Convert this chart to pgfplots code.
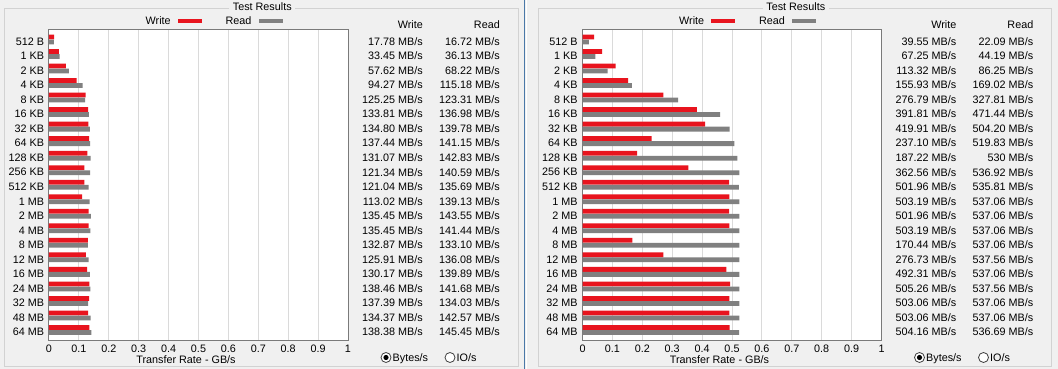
\documentclass[border=0pt]{standalone}
\usepackage{pgfplots}
\pgfplotsset{compat=1.18}
\usepackage{pgfplotstable}
\usepackage{fontspec}
\setmainfont{Liberation Sans}
\definecolor{bgc}{HTML}{F0F0F0}
\definecolor{wred}{HTML}{E8141E}
\definecolor{rgray}{HTML}{808080}
\definecolor{gridc}{HTML}{DADADA}
\definecolor{boxc}{HTML}{7A7A7A}
\definecolor{grpc}{HTML}{D2D2D2}
\definecolor{sepc}{HTML}{4A78A8}
\newcommand\fs{\fontsize{10.8}{13}\selectfont}

% MB/s values read from the result columns
\pgfplotstableread{
i w r
0 17.78 16.72
1 33.45 36.13
2 57.62 68.22
3 94.27 115.18
4 125.25 123.31
5 133.81 136.98
6 134.80 139.78
7 137.44 141.15
8 131.07 142.83
9 121.34 140.59
10 121.04 135.69
11 113.02 139.13
12 135.45 143.55
13 135.45 141.44
14 132.87 133.10
15 125.91 136.08
16 130.17 139.89
17 138.46 141.68
18 137.39 134.03
19 134.37 142.57
20 138.38 145.45
}\leftdata

\pgfplotstableread{
i w r
0 39.55 22.09
1 67.25 44.19
2 113.32 86.25
3 155.93 169.02
4 276.79 327.81
5 391.81 471.44
6 419.91 504.20
7 237.10 519.83
8 187.22 530
9 362.56 536.92
10 501.96 535.81
11 503.19 537.06
12 501.96 537.06
13 503.19 537.06
14 170.44 537.06
15 276.73 537.56
16 492.31 537.06
17 505.26 537.56
18 503.06 537.06
19 503.06 537.06
20 504.16 536.69
}\rightdata

\newcommand\panel[4]{%
  \draw[grpc, line width=1pt] (#1+229,369-8.3) -- (#1+4.5,369-8.3) -- (#1+4.5,369-366.5) -- (#1+518,369-366.5) -- (#1+518,369-8.3) -- (#1+295,369-8.3);
  \node[anchor=base, inner sep=0pt, font=\fs] at (#1+262.3,369-11) {Test Results};
  \begin{axis}[
    at={(#1pt+49pt,29pt)}, anchor=south west,
    scale only axis, width=299pt, height=310.7pt,
    xmin=0, xmax=1, ymin=-0.70, ymax=20.69, y dir=reverse,
    axis background/.style={fill=white},
    xtick={0,0.1,0.2,0.3,0.4,0.5,0.6,0.7,0.8,0.9,1},
    xticklabels={0,0.1,0.2,0.3,0.4,0.5,0.6,0.7,0.8,0.9,1},
    ytick={0,1,...,20},
    yticklabels={512 B,1 KB,2 KB,4 KB,8 KB,16 KB,32 KB,64 KB,128 KB,256 KB,512 KB,1 MB,2 MB,4 MB,8 MB,12 MB,16 MB,24 MB,32 MB,48 MB,64 MB},
    xmajorgrids, major grid style={draw=gridc, line width=1pt},
    major tick length=0pt,
    axis line style={draw=boxc, line width=1pt},
    tick label style={font=\fs, inner sep=0pt},
    xticklabel style={anchor=base, yshift=-12.3pt},
    yticklabel style={anchor=base east, xshift=-4.7pt, yshift=-5.8pt},
    legend columns=2, legend plot pos=right,
    legend style={at={(axis description cs:0.316,1.027)}, anchor=west, draw=none, fill=none,
      font=\fs, inner sep=0pt, column sep=5pt,
      /tikz/every even column/.append style={column sep=22pt}},
    legend image code/.code={\fill (0pt,-2pt) rectangle (24pt,2pt);},
  ]
    \addplot[xbar, bar shift=0pt, bar width=4.8pt, fill=wred, draw=none]
      table[x expr=\thisrow{w}/1024, y expr=\thisrow{i}-0.172] {#2};
    \addplot[xbar, bar shift=0pt, bar width=4.8pt, fill=rgray, draw=none]
      table[x expr=\thisrow{r}/1024, y expr=\thisrow{i}+0.172] {#2};
    \legend{Write, Read}
  \end{axis}
  \node[anchor=base, inner sep=0pt, font=\fs] at (#1+186,369-364) {Transfer Rate - GB/s};
  \node[anchor=base east, inner sep=0pt, font=\fs] at (#1+423,369-29) {Write};
  \node[anchor=base east, inner sep=0pt, font=\fs] at (#1+500,369-29) {Read};
  \foreach \t [count=\k from 0] in {#3} {
    \node[anchor=base east, inner sep=0pt, font=\fs] at (#1+423,369-45.3-14.525*\k) {\t\ MB/s};
  }
  \foreach \t [count=\k from 0] in {#4} {
    \node[anchor=base east, inner sep=0pt, font=\fs] at (#1+500,369-45.3-14.525*\k) {\t\ MB/s};
  }
  \draw[fill=white, draw=black!75, line width=0.8pt] (#1+386,369-357.5) circle (5pt);
  \fill[black] (#1+386,369-357.5) circle (2.6pt);
  \node[anchor=base west, inner sep=0pt, font=\fs] at (#1+392.5,369-362) {Bytes/s};
  \draw[fill=white, draw=black!75, line width=0.8pt] (#1+450,369-357.5) circle (5pt);
  \node[anchor=base west, inner sep=0pt, font=\fs] at (#1+456.5,369-362) {IO/s};
}

\begin{document}
\begin{tikzpicture}[x=1pt, y=1pt]
  \fill[bgc] (0,0) rectangle (1058,369);
  \fill[sepc] (523.5,0) rectangle (525.3,369);
  \fill[white] (526,0) rectangle (527,369);
  \panel{0}{\leftdata}%
    {17.78,33.45,57.62,94.27,125.25,133.81,134.80,137.44,131.07,121.34,121.04,113.02,135.45,135.45,132.87,125.91,130.17,138.46,137.39,134.37,138.38}%
    {16.72,36.13,68.22,115.18,123.31,136.98,139.78,141.15,142.83,140.59,135.69,139.13,143.55,141.44,133.10,136.08,139.89,141.68,134.03,142.57,145.45}
  \panel{533.5}{\rightdata}%
    {39.55,67.25,113.32,155.93,276.79,391.81,419.91,237.10,187.22,362.56,501.96,503.19,501.96,503.19,170.44,276.73,492.31,505.26,503.06,503.06,504.16}%
    {22.09,44.19,86.25,169.02,327.81,471.44,504.20,519.83,530,536.92,535.81,537.06,537.06,537.06,537.06,537.56,537.06,537.56,537.06,537.06,536.69}
\end{tikzpicture}
\end{document}
